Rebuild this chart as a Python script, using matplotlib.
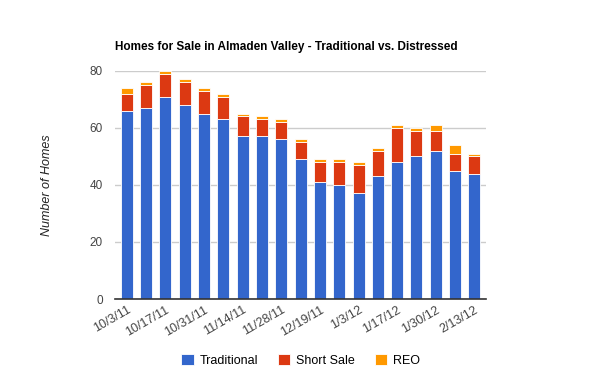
import numpy as np
import matplotlib
matplotlib.use('Agg')
import matplotlib.pyplot as plt

# Data (weekly counts)
dates = ['10/3/11', '10/10/11', '10/17/11', '10/24/11', '10/31/11', '11/7/11',
         '11/14/11', '11/21/11', '11/28/11', '12/5/11', '12/19/11', '12/27/11',
         '1/3/12', '1/10/12', '1/17/12', '1/23/12', '1/30/12', '2/6/12', '2/13/12']
traditional = [66, 67, 71, 68, 65, 63, 57, 57, 56, 49, 41, 40, 37, 43, 48, 50, 52, 45, 44]
short_sale = [6, 8, 8, 8, 8, 8, 7, 6, 6, 6, 7, 8, 10, 9, 12, 9, 7, 6, 6]
reo = [2, 1, 1, 1, 1, 1, 1, 1, 1, 1, 1, 1, 1, 1, 1, 1, 2, 3, 1]

plt.rcParams['font.family'] = ['Liberation Sans', 'DejaVu Sans']

fig = plt.figure(figsize=(6, 3.71), dpi=100)
ax = fig.add_axes([0.192, 0.194, 0.618, 0.615])

x = np.arange(len(dates))
trad = np.array(traditional)
short = np.array(short_sale)
r = np.array(reo)
w = 0.62
ax.bar(x, trad, w, color='#3366CC', edgecolor='white', linewidth=0.6, label='Traditional', zorder=3)
ax.bar(x, short, w, bottom=trad, color='#DC3912', edgecolor='white', linewidth=0.6, label='Short Sale', zorder=3)
ax.bar(x, r, w, bottom=trad + short, color='#FF9900', edgecolor='white', linewidth=0.6, label='REO', zorder=3)

ax.set_xlim(-0.6, len(dates) - 0.4)
ax.set_ylim(0, 80)
ax.set_yticks([0, 20, 40, 60, 80])
ax.yaxis.grid(True, color='#cccccc', linewidth=1, zorder=0)
for s in ['top', 'right', 'left']:
    ax.spines[s].set_visible(False)
ax.spines['bottom'].set_color('#333333')
ax.spines['bottom'].set_linewidth(1.2)
ax.spines['bottom'].set_zorder(5)
ax.tick_params(axis='both', length=0, labelsize=9, colors='#444444')
ax.tick_params(axis='y', pad=9, labelsize=8.5)

ax.set_xticks(x[::2])
ax.set_xticklabels(dates[::2], rotation=30, ha='right', rotation_mode='anchor')

ax.set_ylabel('Number of Homes', style='italic', fontsize=9, color='#222222', labelpad=26)
ax.set_title('Homes for Sale in Almaden Valley - Traditional vs. Distressed',
             fontsize=8.5, fontweight='bold', loc='left', pad=15, x=0.0)

ax.legend(loc='upper center', bbox_to_anchor=(0.5, -0.19), ncol=3, frameon=False,
          fontsize=9, handlelength=1.0, handleheight=1.0, columnspacing=1.6,
          handletextpad=0.45)

fig.savefig('out.png', dpi=100)
